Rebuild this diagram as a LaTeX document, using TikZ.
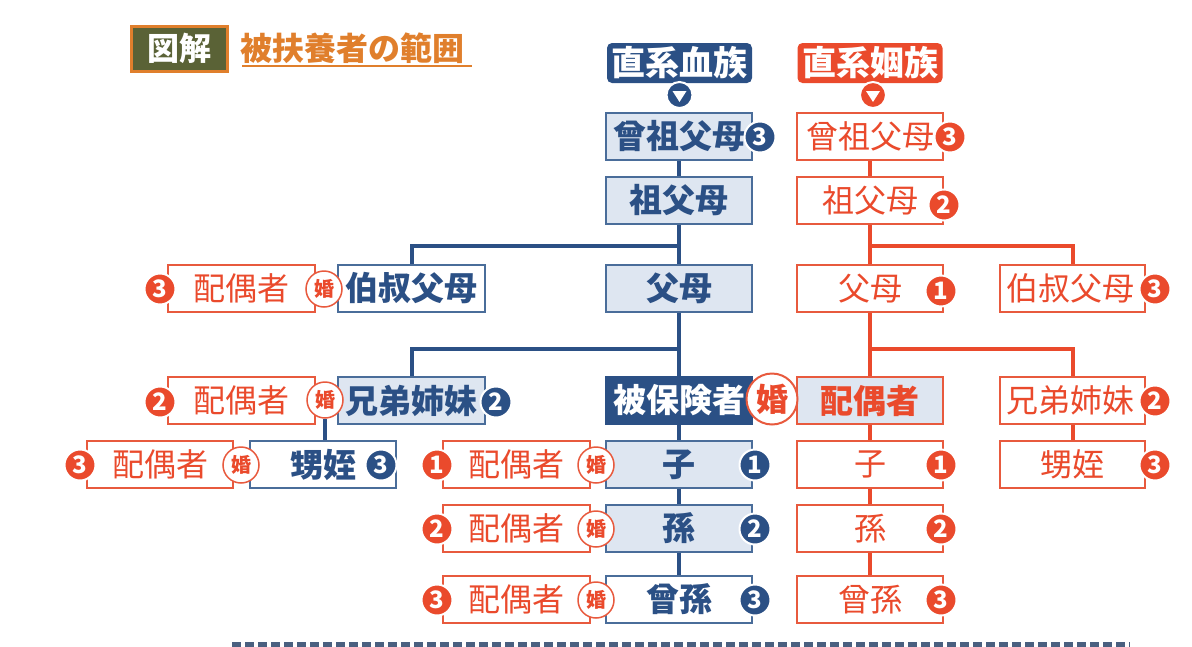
\documentclass[tikz,border=0pt]{standalone}
\usepackage{fontspec}
\newfontfamily\jp{Noto Sans CJK JP}
\definecolor{dblue}{HTML}{2B5085}
\definecolor{bedge}{HTML}{4A6D9A}
\definecolor{lfill}{HTML}{DEE6F1}
\definecolor{redA}{HTML}{EA4A2C}
\definecolor{redE}{HTML}{E85A3E}
\definecolor{orng}{HTML}{E07F2C}
\definecolor{olive}{HTML}{5A6236}
\definecolor{dashc}{HTML}{4A6080}
\tikzset{
  box/.style={rectangle, minimum width=146pt, minimum height=47pt, inner sep=0pt, line width=1.8pt},
  bbox/.style={box, draw=bedge, fill=lfill, text=dblue, font=\jp\bfseries\fontsize{33}{33}\selectfont},
  bboxw/.style={bbox, fill=white},
  rbox/.style={box, draw=redE, fill=white, text=redA, font=\jp\fontsize{32}{32}\selectfont},
  header/.style={rectangle, rounded corners=5pt, minimum width=145pt, minimum height=40pt, inner sep=0pt, text=white, font=\jp\bfseries\fontsize{34}{34}\selectfont},
  badge/.style={circle, minimum size=31pt, inner sep=0pt, draw=white, line width=2pt, text=white, font=\jp\bfseries\fontsize{24}{24}\selectfont},
  bb/.style={badge, fill=dblue},
  rb/.style={badge, fill=redA},
  kon/.style={circle, draw=redE, fill=white, line width=1.5pt, minimum size=36pt, inner sep=0pt, text=redA, font=\jp\bfseries\fontsize{20}{20}\selectfont},
  bigkon/.style={kon, minimum size=51pt, line width=2pt, font=\jp\bfseries\fontsize{32}{32}\selectfont},
  tri/.style={circle, minimum size=26pt, inner sep=0pt, draw=white, line width=2pt},
  bl/.style={draw=dblue, line width=4pt},
  rl/.style={draw=redA, line width=4pt},
}
\begin{document}
\begin{tikzpicture}[x=1pt,y=-1pt]
\useasboundingbox (0,0) rectangle (1192,646);
% title
\node[rectangle, fill=olive, draw=orng, line width=3pt, minimum width=96pt, minimum height=45pt, inner sep=0pt, text=white, font=\jp\bfseries\fontsize{32}{32}\selectfont] (zukai) at (179,48.5) {図解};
\node[anchor=west, inner sep=0pt, text=orng, font=\jp\bfseries\fontsize{32}{32}\selectfont] (ttl) at (240,48) {被扶養者の範囲};
\coordinate (ulA) at (242,66);
\coordinate (ulB) at (472,66);
\draw[orng, line width=2pt] (ulA) -- (ulB);

% headers
\node[header, fill=dblue] (hb) at (679.5,63) {直系血族};
\node[header, fill=redA] (hr) at (870,63) {直系姻族};

% blue column
\node[bbox] (bggp) at (679,136.5) {曾祖父母};
\node[bbox] (bgp) at (679,200.5) {祖父母};
\node[bbox] (bp) at (679,288.5) {父母};
\node[bbox, fill=dblue, draw=dblue, text=white] (self) at (679,400.5) {被保険者};
\node[bbox] (bc) at (679,464.5) {子};
\node[bbox] (bgc) at (679,528.5) {孫};
\node[bboxw] (bggc) at (679,599.5) {曾孫};
\node[bboxw, minimum width=147pt] (bunc) at (411.5,288.5) {伯叔父母};
\node[bbox, minimum width=147pt] (bsib) at (411.5,400.5) {兄弟姉妹};
\node[bboxw] (bnep) at (323,464.5) {甥姪};

% red spouses on the left
\node[rbox, minimum width=147pt] (sunc) at (241.5,288.5) {配偶者};
\node[rbox, minimum width=147pt] (ssib) at (241.5,400.5) {配偶者};
\node[rbox] (snep) at (160,464.5) {配偶者};
\node[rbox, minimum width=147pt] (sc) at (516.5,464.5) {配偶者};
\node[rbox, minimum width=147pt] (sgc) at (516.5,528.5) {配偶者};
\node[rbox, minimum width=147pt] (sggc) at (516.5,599.5) {配偶者};

% red column
\node[rbox] (rggp) at (870,136.5) {曾祖父母};
\node[rbox] (rgp) at (870,200.5) {祖父母};
\node[rbox] (rp) at (870,288.5) {父母};
\node[rbox, fill=lfill, font=\jp\bfseries\fontsize{33}{33}\selectfont] (sp) at (870,400.5) {配偶者};
\node[rbox] (rc) at (870,464.5) {子};
\node[rbox] (rgc) at (870,528.5) {孫};
\node[rbox] (rggc) at (870,599.5) {曾孫};
\node[rbox, minimum width=145pt] (runc) at (1072.5,288.5) {伯叔父母\hspace*{4pt}};
\node[rbox, minimum width=145pt] (rsib) at (1072.5,400.5) {兄弟姉妹\hspace*{4pt}};
\node[rbox, minimum width=145pt] (rnep) at (1072.5,464.5) {甥姪};

% 婚 circles
\node[kon] (k1) at (324,289) {婚};
\node[kon] (k2) at (325,400) {婚};
\node[kon] (k3) at (241,465) {婚};
\node[kon] (k4) at (596,465) {婚};
\node[kon] (k5) at (596,529) {婚};
\node[kon] (k6) at (596,600) {婚};
\node[bigkon] (k0) at (772,399) {婚};

% connectors (blue)
\coordinate (jb1) at (679,246);
\coordinate (jb2) at (679,349);
\draw[bl] (bggp.south) -- (bgp.north);
\draw[bl] (bgp.south) -- (bp.north);
\draw[bl] (bp.south) -- (self.north);
\draw[bl] (self.south) -- (bc.north);
\draw[bl] (bc.south) -- (bgc.north);
\draw[bl] (bgc.south) -- (bggc.north);
\draw[bl] (jb1) -| (bunc.north);
\draw[bl] (jb2) -| (bsib.north);
\draw[bl] (k2.south) -- (k2.south |- bnep.north);
% connectors (red)
\coordinate (jr1) at (870,246);
\coordinate (jr2) at (870,349);
\draw[rl] (rggp.south) -- (rgp.north);
\draw[rl] (rgp.south) -- (rp.north);
\draw[rl] (rp.south) -- (sp.north);
\draw[rl] (sp.south) -- (rc.north);
\draw[rl] (rc.south) -- (rgc.north);
\draw[rl] (rgc.south) -- (rggc.north);
\draw[rl] (jr1) -| (runc.north);
\draw[rl] (jr2) -| (rsib.north);
\draw[rl] (rsib.south) -- (rnep.north);

% triangle markers
\node[tri, fill=dblue] (tb) at (679.5,95) {};
\node[tri, fill=redA] (tr) at (873,95) {};
\fill[white] ([xshift=-7pt,yshift=4pt]tb.center) -- ([xshift=7pt,yshift=4pt]tb.center) -- ([yshift=-7pt]tb.center) -- cycle;
\fill[white] ([xshift=-7pt,yshift=4pt]tr.center) -- ([xshift=7pt,yshift=4pt]tr.center) -- ([yshift=-7pt]tr.center) -- cycle;

% badges blue
\node[bb] (b1) at (760,137) {3};
\node[bb] (b2) at (496,402) {2};
\node[bb] (b3) at (381,465) {3};
\node[bb] (b4) at (755,465) {1};
\node[bb] (b5) at (755,529) {2};
\node[bb] (b6) at (755,600) {3};
% badges red
\node[rb] (r1) at (950,137) {3};
\node[rb] (r2) at (944,205) {2};
\node[rb] (r3) at (941,291) {1};
\node[rb] (r4) at (1155,289) {3};
\node[rb] (r5) at (1155,401) {2};
\node[rb] (r6) at (1155,465) {3};
\node[rb] (r7) at (941,465) {1};
\node[rb] (r8) at (941,529) {2};
\node[rb] (r9) at (941,600) {3};
\node[rb] (l1) at (160,289) {3};
\node[rb] (l2) at (160,402) {2};
\node[rb] (l3) at (80,465) {3};
\node[rb] (l4) at (437,465) {1};
\node[rb] (l5) at (437,529) {2};
\node[rb] (l6) at (437,600) {3};

% dashed line at bottom
\coordinate (dA) at (232,644);
\coordinate (dB) at (1130,644);
\draw[dashc, line width=5pt, dash pattern=on 9pt off 4pt] (dA) -- (dB);
\end{tikzpicture}
\end{document}
